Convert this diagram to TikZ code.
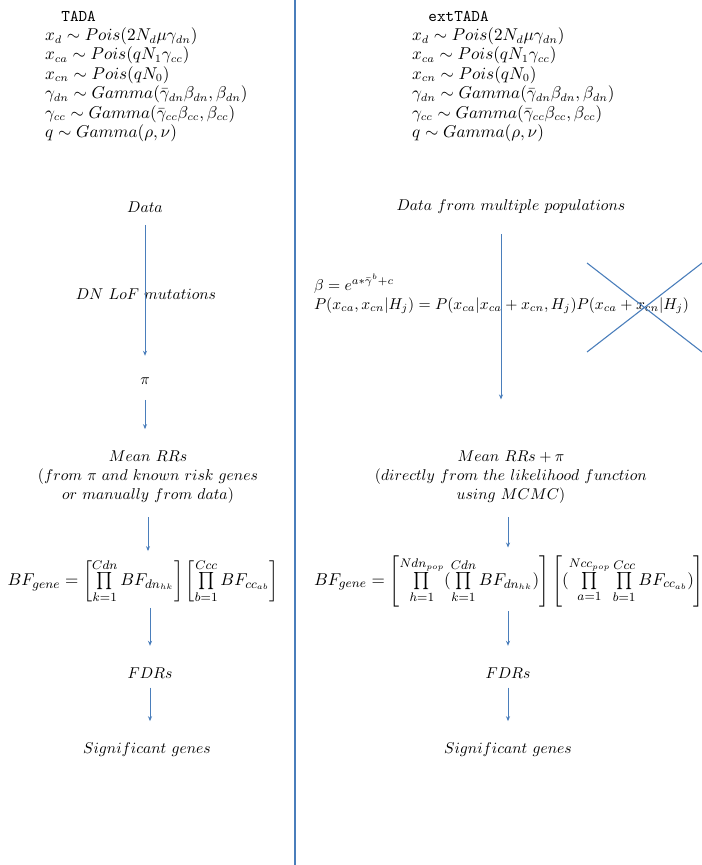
\documentclass[tikz,border=0pt]{standalone}
\usepackage{amsmath}
\usetikzlibrary{arrows.meta}

\definecolor{lineblue}{HTML}{4A7EBB}

\tikzset{
  txt/.style={inner sep=0pt, outer sep=0pt, align=center},
  head/.style={inner sep=0pt, outer sep=0pt, align=left, anchor=north west,
    font=\fontsize{10.5}{12.4}\selectfont},
  bigeq/.style={txt, font=\fontsize{11}{13}\selectfont},
  flow/.style={-{Stealth[length=3.2pt,width=2.6pt]}, draw=lineblue, line width=0.6pt},
  divider/.style={draw=lineblue, line width=1.2pt},
  strike/.style={draw=lineblue, line width=0.7pt}
}

\begin{document}
\begin{tikzpicture}[x=0.64pt, y=-0.64pt]
  \clip (0,0) rectangle (702,865);

  % column divider
  \draw[divider] (295,0) -- (295,865);

  % model headers
  \node[head] (hdrL) at (45,11) {\quad\texttt{TADA}\\
    $x_d \sim Pois(2N_d\mu\gamma_{dn})$\\
    $x_{ca} \sim Pois(qN_1\gamma_{cc})$\\
    $x_{cn} \sim Pois(qN_0)$\\
    $\gamma_{dn} \sim Gamma(\bar{\gamma}_{dn}\beta_{dn},\beta_{dn})$\\
    $\gamma_{cc} \sim Gamma(\bar{\gamma}_{cc}\beta_{cc},\beta_{cc})$\\
    $q \sim Gamma(\rho,\nu)$};
  \node[head] (hdrR) at (412,11) {\quad\texttt{extTADA}\\
    $x_d \sim Pois(2N_d\mu\gamma_{dn})$\\
    $x_{ca} \sim Pois(qN_1\gamma_{cc})$\\
    $x_{cn} \sim Pois(qN_0)$\\
    $\gamma_{dn} \sim Gamma(\bar{\gamma}_{dn}\beta_{dn},\beta_{dn})$\\
    $\gamma_{cc} \sim Gamma(\bar{\gamma}_{cc}\beta_{cc},\beta_{cc})$\\
    $q \sim Gamma(\rho,\nu)$};

  % TADA column
  \node[txt] (dataL) at (145,207) {$Data$};
  \node[txt] (dnlof) at (146,294) {$DN\ LoF\ mutations$};
  \node[txt] (piL) at (145,381) {$\pi$};
  \node[txt, anchor=north] (rrL) at (148,451) {$Mean\ RRs$\\
    $(from\ \pi\ and\ known\ risk\ genes$\\
    $or\ manually\ from\ data)$};
  \node[bigeq] (bfL) at (143,581) {$BF_{gene} = \left[\prod\limits_{k=1}^{Cdn} BF_{dn_{hk}}\right]
    \left[\prod\limits_{b=1}^{Ccc} BF_{cc_{ab}}\right]$};
  \node[txt] (fdrL) at (150,673) {$FDRs$};
  \node[txt] (sigL) at (147,750) {$Significant\ genes$};

  \draw[flow, shorten <=8pt, shorten >=14pt] (dataL) -- (piL);
  \draw[flow, shorten <=10pt, shorten >=14pt] (piL) -- (piL |- rrL.north);
  \draw[flow, shorten <=9pt, shorten >=5pt] (rrL.south) -- (rrL.south |- bfL.north);
  \draw[flow, shorten <=3pt, shorten >=14pt] (fdrL |- bfL.south) -- (fdrL);
  \draw[flow, shorten <=6pt, shorten >=14pt] (fdrL) -- (fdrL |- sigL.north);

  % extTADA column
  \coordinate (axR) at (501,0);
  \node[txt] (dataR) at (511,207) {$Data\ from\ multiple\ populations$};
  \node[txt, align=left, anchor=west] (betaR) at (314,294) {$\beta = e^{a*\bar{\gamma}^b+c}$\\
    $P(x_{ca},x_{cn}|H_j) = P(x_{ca}|x_{ca}+x_{cn},H_j)P(x_{ca}+x_{cn}|H_j)$};
  \node[txt, anchor=north] (rrR) at (511,451) {$Mean\ RRs + \pi$\\
    $(directly\ from\ the\ likelihood\ function$\\
    $using\ MCMC)$};
  \node[bigeq] (bfR) at (509,581) {$BF_{gene} = \left[\prod\limits_{h=1}^{Ndn_{pop}}
    (\prod\limits_{k=1}^{Cdn} BF_{dn_{hk}})\right]
    \left[(\prod\limits_{a=1}^{Ncc_{pop}}\prod\limits_{b=1}^{Ccc} BF_{cc_{ab}})\right]$};
  \node[txt] (fdrR) at (508,673) {$FDRs$};
  \node[txt] (sigR) at (508,750) {$Significant\ genes$};

  \draw[flow, shorten <=13pt, shorten >=33pt] (dataR.south -| axR) -- (rrR.north -| axR);
  \draw[flow, shorten <=9pt, shorten >=5pt] (rrR.south -| fdrR) -- (bfR.north -| fdrR);
  \draw[flow, shorten <=3pt, shorten >=14pt] (fdrR |- bfR.south) -- (fdrR);
  \draw[flow, shorten <=6pt, shorten >=14pt] (fdrR) -- (fdrR |- sigR.north);

  % crossed-out term
  \draw[strike] (587,263) -- (702,352);
  \draw[strike] (587,352) -- (702,263);
\end{tikzpicture}
\end{document}
